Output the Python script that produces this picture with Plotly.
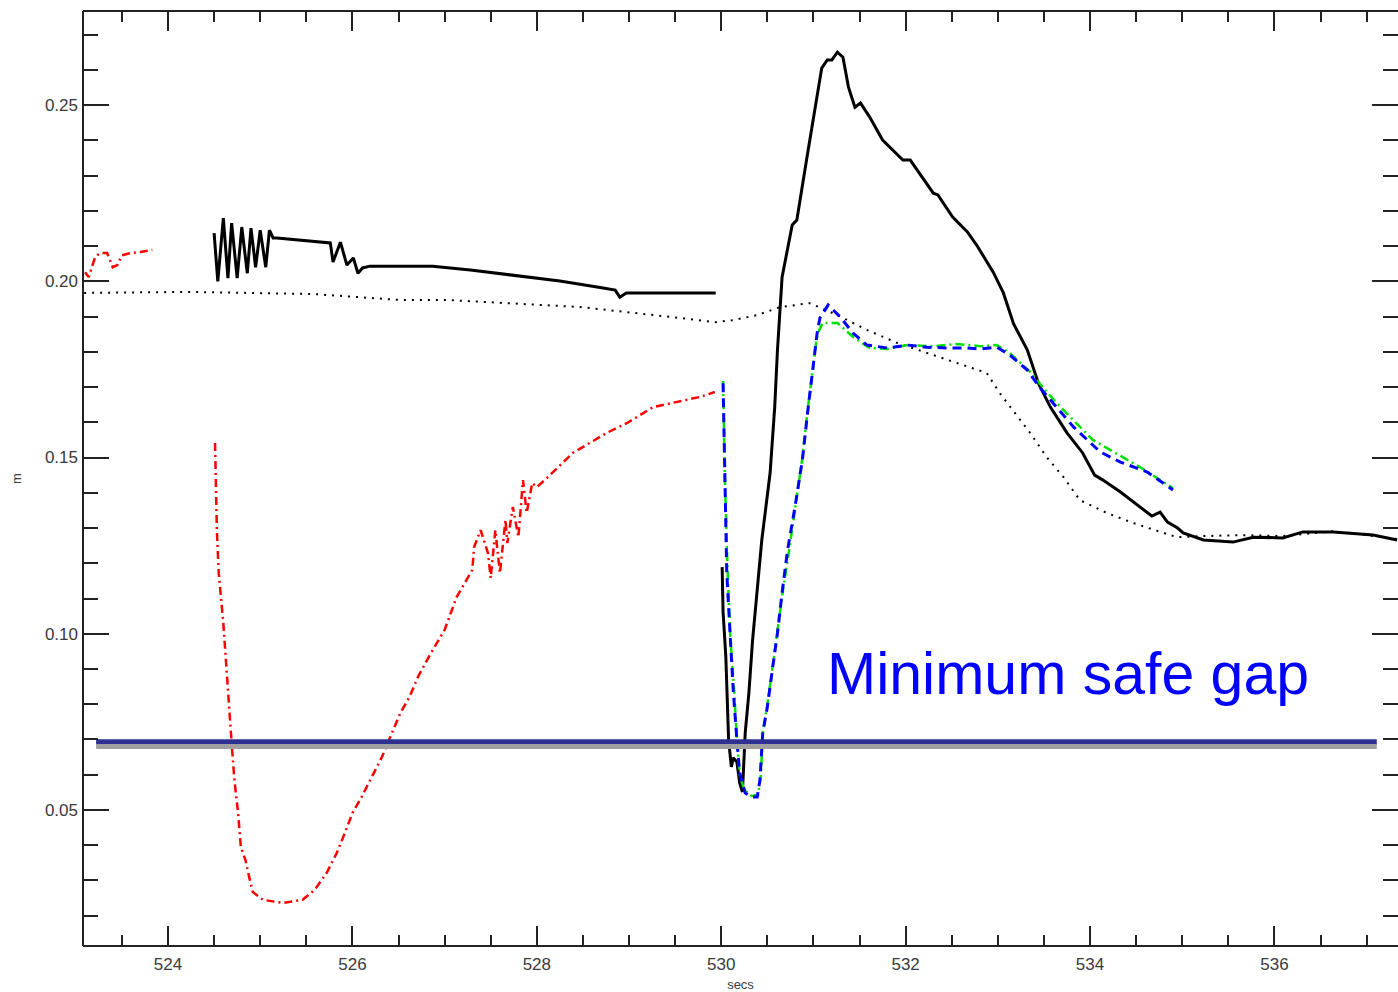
import plotly.graph_objects as go

# ---- measured clearance traces (time in secs, gap in m) ----
black_a_t = [524.50, 524.54, 524.60, 524.65, 524.69, 524.75, 524.80, 524.86, 524.90, 524.95,
             525.00, 525.06, 525.10, 525.14, 525.18, 525.43, 525.76, 525.79, 525.87, 525.94,
             526.01, 526.06, 526.11, 526.19, 526.87, 527.28, 527.74, 528.25, 528.72, 528.85,
             528.90, 528.97, 529.94]
black_a_v = [0.2137, 0.2000, 0.2179, 0.2009, 0.2165, 0.2009, 0.2154, 0.2023, 0.2151, 0.2040,
             0.2145, 0.2040, 0.2145, 0.2123, 0.2123, 0.2117, 0.2109, 0.2055, 0.2111, 0.2046,
             0.2066, 0.2023, 0.2038, 0.2043, 0.2043, 0.2032, 0.2018, 0.2001, 0.1981, 0.1975,
             0.1955, 0.1967, 0.1967]

black_b_t = [530.01, 530.02, 530.05, 530.07, 530.08, 530.11, 530.13, 530.17, 530.20, 530.23,
             530.24, 530.26, 530.30, 530.34, 530.40, 530.44, 530.53, 530.58, 530.61, 530.64,
             530.66, 530.77, 530.82, 530.93, 531.02, 531.09, 531.15, 531.20, 531.26, 531.32,
             531.38, 531.45, 531.51, 531.61, 531.75, 531.97, 532.05, 532.30, 532.35, 532.51,
             532.67, 532.77, 532.95, 533.06, 533.17, 533.32, 533.44, 533.57, 533.75, 533.92,
             534.05, 534.14, 534.33, 534.54, 534.67, 534.76, 534.84, 534.95, 535.01, 535.23,
             535.55, 535.77, 536.09, 536.31, 536.64, 537.07, 537.33]
black_b_v = [0.1189, 0.1062, 0.0934, 0.0804, 0.0699, 0.0622, 0.0648, 0.0636, 0.0577, 0.0551,
             0.0613, 0.0718, 0.0832, 0.0982, 0.1152, 0.1266, 0.1456, 0.1643, 0.1805, 0.1947,
             0.2012, 0.2160, 0.2174, 0.2352, 0.2491, 0.2605, 0.2628, 0.2628, 0.2650, 0.2636,
             0.2551, 0.2494, 0.2506, 0.2466, 0.2401, 0.2344, 0.2344, 0.2250, 0.2245, 0.2182,
             0.2140, 0.2103, 0.2026, 0.1967, 0.1880, 0.1805, 0.1711, 0.1643, 0.1570, 0.1513,
             0.1450, 0.1436, 0.1402, 0.1360, 0.1334, 0.1345, 0.1317, 0.1300, 0.1286, 0.1266,
             0.1260, 0.1274, 0.1272, 0.1289, 0.1289, 0.1280, 0.1266]

dotted_t = [523.09, 524.21, 525.57, 526.52, 527.03, 528.47, 529.55, 529.94, 530.13, 530.39,
            530.64, 530.96, 531.26, 531.58, 531.91, 532.23, 532.56, 532.88, 533.02, 533.16,
            533.35, 533.53, 533.71, 533.89, 534.18, 534.47, 534.79, 534.94, 535.23, 535.63,
            536.09, 536.64, 537.33]
dotted_v = [0.1967, 0.1970, 0.1964, 0.1947, 0.1947, 0.1927, 0.1896, 0.1884, 0.1890, 0.1904,
            0.1927, 0.1938, 0.1904, 0.1862, 0.1825, 0.1796, 0.1768, 0.1740, 0.1683, 0.1635,
            0.1570, 0.1501, 0.1445, 0.1379, 0.1343, 0.1314, 0.1286, 0.1274, 0.1277, 0.1280,
            0.1277, 0.1291, 0.1269]

red_a_t = [523.10, 523.14, 523.21, 523.26, 523.34, 523.40, 523.45, 523.50, 523.59, 523.70, 523.83]
red_a_v = [0.2026, 0.2012, 0.2069, 0.2080, 0.2080, 0.2040, 0.2046, 0.2074, 0.2080, 0.2083, 0.2089]

red_b_t = [524.51, 524.53, 524.55, 524.60, 524.63, 524.66, 524.69, 524.72, 524.76, 524.79,
           524.84, 524.88, 524.92, 525.03, 525.25, 525.46, 525.59, 525.72, 525.83, 525.90,
           526.00, 526.10, 526.21, 526.32, 526.41, 526.52, 526.62, 526.71, 526.84, 527.00,
           527.13, 527.30, 527.32, 527.39, 527.47, 527.50, 527.55, 527.60, 527.66, 527.68,
           527.74, 527.80, 527.85, 527.89, 527.95, 528.00, 528.11, 528.39, 528.76, 528.98,
           529.26, 529.52, 529.77, 529.93]
red_b_v = [0.1541, 0.1294, 0.1172, 0.1030, 0.0917, 0.0792, 0.0690, 0.0585, 0.0491, 0.0395,
           0.0358, 0.0310, 0.0267, 0.0245, 0.0236, 0.0245, 0.0273, 0.0321, 0.0378, 0.0423,
           0.0491, 0.0537, 0.0594, 0.0650, 0.0707, 0.0775, 0.0821, 0.0877, 0.0940, 0.1011,
           0.1104, 0.1181, 0.1246, 0.1294, 0.1229, 0.1158, 0.1294, 0.1172, 0.1323, 0.1257,
           0.1360, 0.1274, 0.1436, 0.1343, 0.1428, 0.1416, 0.1442, 0.1513, 0.1570, 0.1598,
           0.1643, 0.1657, 0.1672, 0.1686]

blue_t = [530.02, 530.04, 530.06, 530.10, 530.13, 530.17, 530.20, 530.26, 530.33, 530.39,
          530.42, 530.45, 530.50, 530.55, 530.61, 530.66, 530.72, 530.80, 530.88, 530.94,
          531.00, 531.04, 531.07, 531.16, 531.29, 531.43, 531.58, 531.80, 532.02, 532.23,
          532.45, 532.67, 532.81, 532.99, 533.13, 533.32, 533.46, 533.60, 533.82, 534.11,
          534.33, 534.62, 534.90]
blue_v = [0.1711, 0.1436, 0.1172, 0.0982, 0.0840, 0.0699, 0.0605, 0.0548, 0.0537, 0.0537,
          0.0585, 0.0718, 0.0792, 0.0889, 0.1002, 0.1116, 0.1238, 0.1360, 0.1493, 0.1635,
          0.1768, 0.1853, 0.1896, 0.1933, 0.1899, 0.1853, 0.1819, 0.1811, 0.1819, 0.1813,
          0.1811, 0.1811, 0.1808, 0.1813, 0.1791, 0.1748, 0.1697, 0.1655, 0.1587, 0.1516,
          0.1487, 0.1459, 0.1408]

green_t = [530.02, 530.04, 530.07, 530.10, 530.14, 530.17, 530.20, 530.25, 530.33, 530.40,
           530.43, 530.45, 530.50, 530.55, 530.61, 530.67, 530.74, 530.81, 530.88, 530.94,
           531.00, 531.04, 531.10, 531.26, 531.43, 531.61, 531.80, 532.02, 532.30, 532.56,
           532.81, 532.99, 533.13, 533.35, 533.53, 533.71, 534.03, 534.25, 534.54, 534.90]
green_v = [0.1717, 0.1436, 0.1172, 0.0982, 0.0840, 0.0699, 0.0600, 0.0557, 0.0540, 0.0543,
           0.0600, 0.0718, 0.0798, 0.0897, 0.1011, 0.1124, 0.1243, 0.1365, 0.1499, 0.1640,
           0.1771, 0.1848, 0.1882, 0.1882, 0.1842, 0.1811, 0.1808, 0.1819, 0.1816, 0.1822,
           0.1816, 0.1819, 0.1796, 0.1743, 0.1686, 0.1635, 0.1550, 0.1516, 0.1473, 0.1413]

# threshold
min_gap_value = 0.0693
min_gap_span = [523.22, 537.11]
min_gap_label = "Minimum safe gap"

x_range = [523.078, 537.34]
y_range = [0.0114, 0.2767]

fig = go.Figure()

def add_line(t, v, color, width, dash):
    fig.add_trace(go.Scatter(x=t, y=v, mode="lines", showlegend=False, hoverinfo="skip",
                             line=dict(color=color, width=width, dash=dash)))

add_line(dotted_t, dotted_v, "black", 2, "2px,6px")
add_line(red_a_t, red_a_v, "#ff0000", 2.5, "8px,4px,2px,4px")
add_line(red_b_t, red_b_v, "#ff0000", 2.5, "8px,4px,2px,4px")
add_line(black_a_t, black_a_v, "black", 3, "solid")
add_line(black_b_t, black_b_v, "black", 3, "solid")
add_line(green_t, green_v, "#00e000", 2.5, "9px,4px,2px,4px")
add_line(blue_t, blue_v, "#0000ff", 3, "9px,6px")

# safe-gap threshold: grey hatched underline plus navy bar
fig.add_shape(type="rect", xref="x", yref="y", ysizemode="pixel", yanchor=min_gap_value,
              x0=min_gap_span[0], x1=min_gap_span[1], y0=-2, y1=-7,
              fillcolor="#a0a0a0", line=dict(width=0), layer="above")
add_line(min_gap_span, [min_gap_value, min_gap_value], "#2e3192", 5.5, "solid")

fig.add_annotation(x=531.12, y=0.0885, xref="x", yref="y", text=min_gap_label,
                   showarrow=False, xanchor="left", yanchor="middle",
                   font=dict(family="Liberation Sans, Arial", size=59, color="#0000ff"))

# frame on the left, bottom and top (the right side only carries ticks)
frame = dict(color="#222", width=2)
fig.add_shape(type="line", xref="paper", yref="paper", x0=0, x1=0, y0=0, y1=1, line=frame)
fig.add_shape(type="line", xref="paper", yref="paper", x0=0, x1=1, y0=0, y1=0, line=frame)
fig.add_shape(type="line", xref="paper", yref="paper", x0=0, x1=1, y0=1, y1=1, line=frame)

axis_font = dict(family="Liberation Sans, DejaVu Sans", size=17, color="#3a3a3a")
title_font = dict(family="Liberation Sans, DejaVu Sans", size=13, color="#3a3a3a")

fig.update_xaxes(range=x_range, dtick=2, tick0=524, ticks="inside", ticklen=20, tickwidth=1.5,
                 tickcolor="#222", showline=False, mirror="ticks", ticklabelstandoff=6,
                 showgrid=False, zeroline=False, tickfont=axis_font,
                 minor=dict(dtick=0.5, tick0=524, ticks="inside", ticklen=11, tickwidth=1.5,
                            tickcolor="#222", showgrid=False),
                 title=dict(text="secs", font=title_font, standoff=8))
fig.update_yaxes(range=y_range, dtick=0.05, tick0=0.05, tickformat=".2f", ticks="inside",
                 ticklen=26, tickwidth=2, tickcolor="#222", showline=False, mirror="ticks",
                 showgrid=False, zeroline=False, tickfont=axis_font, ticklabelstandoff=4,
                 minor=dict(dtick=0.01, tick0=0.05, ticks="inside", ticklen=15, tickwidth=2,
                            tickcolor="#222", showgrid=False),
                 title=dict(text="m", font=title_font, standoff=20))

fig.update_layout(width=1398, height=992, margin=dict(l=83, r=0, t=11, b=46),
                  paper_bgcolor="white", plot_bgcolor="white")

fig.write_html("out.html")
